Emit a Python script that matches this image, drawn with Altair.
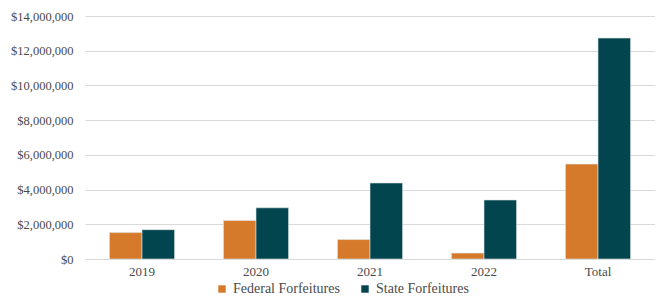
import altair as alt
import pandas as pd

categories = ["2019", "2020", "2021", "2022", "Total"]
series = ["Federal Forfeitures", "State Forfeitures"]
federal = [1520000, 2220000, 1120000, 340000, 5470000]
state = [1690000, 2950000, 4380000, 3400000, 12730000]
colors = ["#D57A2B", "#02454F"]
y_ticks = [0, 2000000, 4000000, 6000000, 8000000, 10000000, 12000000, 14000000]

rows = []
for c, f, s in zip(categories, federal, state):
    rows.append({"year": c, "type": series[0], "value": f})
    rows.append({"year": c, "type": series[1], "value": s})
df = pd.DataFrame(rows)

font = "Liberation Serif"
txt = "#4a4a4a"

chart = alt.Chart(df).mark_bar(stroke="#dfe6e6", strokeWidth=0.6).encode(
    x=alt.X("year:N", sort=categories, title=None,
            scale=alt.Scale(paddingInner=0, paddingOuter=0),
            axis=alt.Axis(labelAngle=0, domain=False, ticks=False, labelPadding=6,
                          labelFont=font, labelFontSize=13, labelColor=txt)),
    xOffset=alt.XOffset("type:N", sort=series,
                        scale=alt.Scale(paddingInner=0, paddingOuter=0.75)),
    y=alt.Y("value:Q", title=None,
            scale=alt.Scale(domain=[0, 14000000], nice=False),
            axis=alt.Axis(values=y_ticks, format="$,.0f", domain=False, ticks=False,
                          labelPadding=12, gridColor="#D9D9D9", gridWidth=1,
                          labelFont=font, labelFontSize=12.5, labelColor=txt)),
    color=alt.Color("type:N", sort=series, title=None,
                    scale=alt.Scale(domain=series, range=colors),
                    legend=alt.Legend(orient="none", legendX=130, legendY=266,
                                      direction="horizontal", symbolType="square",
                                      symbolSize=55, symbolStrokeWidth=0,
                                      labelFont=font, labelFontSize=14,
                                      labelColor=txt, columnPadding=18,
                                      labelOffset=4)),
).properties(
    width=570, height=243,
    autosize=alt.AutoSizeParams(type="none"),
    padding={"left": 77, "top": 8, "right": 0, "bottom": 38},
).configure(font=font).configure_view(stroke=None).configure_text(font=font)

chart.save("out.html", embed_options={"renderer": "svg", "actions": False})
